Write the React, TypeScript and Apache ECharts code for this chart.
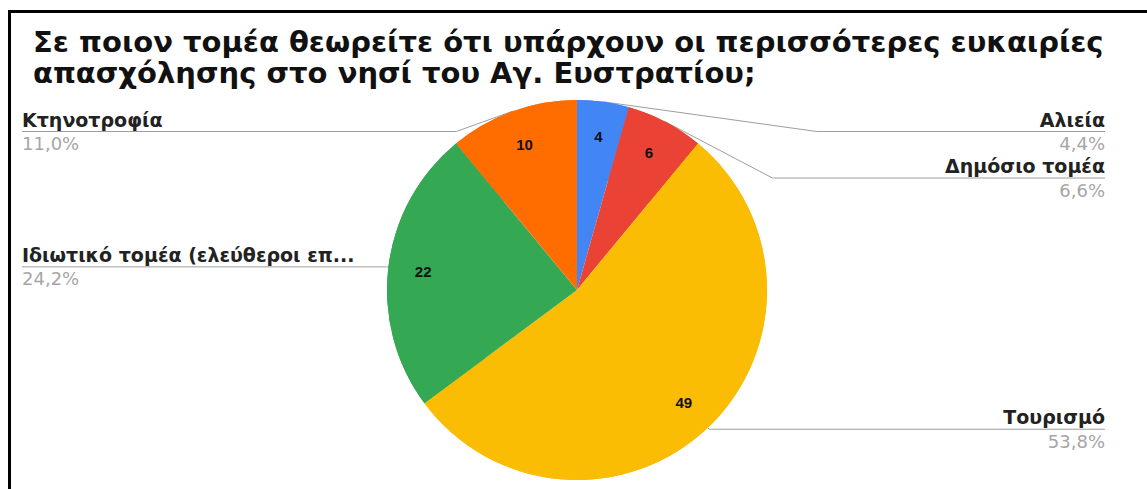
import React, { useEffect, useRef } from "react";
import * as echarts from "echarts";

const titleLines = [
  "Σε ποιον τομέα θεωρείτε ότι υπάρχουν οι περισσότερες ευκαιρίες",
  "απασχόλησης στο νησί του Αγ. Ευστρατίου;",
];
const categories = [
  "Αλιεία",
  "Δημόσιο τομέα",
  "Τουρισμό",
  "Ιδιωτικό τομέα (ελεύθεροι επ...",
  "Κτηνοτροφία",
];
const values = [4, 6, 49, 22, 10];
const colors = ["#4285F4", "#EA4335", "#FBBC04", "#34A853", "#FF6D01"];

const CX = 577;
const CY = 290;
const TOP = 108;
const R = 190;

export default function App() {
  const ref = useRef<HTMLDivElement>(null);
  useEffect(() => {
    if (!ref.current) return;
    const chart = echarts.init(ref.current, undefined, { renderer: "svg" });
    const data = categories.map((name, i) => ({
      name,
      value: values[i],
      itemStyle: { color: colors[i] },
    }));
    const box = { left: 0, top: TOP, right: 20, bottom: 0 };
    chart.setOption({
      animation: false,
      backgroundColor: "#fff",
      title: {
        text: titleLines.join("\n"),
        left: 28,
        top: 21,
        textStyle: {
          fontFamily: "DejaVu Sans",
          fontWeight: "bold",
          fontSize: 29,
          lineHeight: 31,
          color: "#111",
        },
      },
      graphic: [
        {
          type: "rect",
          silent: true,
          shape: { x: 9.5, y: 11.5, width: 1400, height: 700 },
          style: { fill: "none", stroke: "#000", lineWidth: 3 },
        },
      ],
      series: [
        {
          type: "pie",
          ...box,
          center: [CX, CY - TOP],
          radius: R,
          startAngle: 90,
          clockwise: true,
          percentPrecision: 1,
          avoidLabelOverlap: true,
          data,
          itemStyle: { borderWidth: 0 },
          emphasis: { disabled: true },
          label: {
            show: true,
            position: "outer",
            alignTo: "edge",
            edgeDistance: 22,
            minMargin: 4,
            formatter: (p: any) =>
              `{n|${p.name}}\n{p|${Number(p.percent).toFixed(1).replace(".", ",")}%}`,
            rich: {
              n: {
                fontFamily: "DejaVu Sans",
                fontWeight: "bold",
                fontSize: 19,
                lineHeight: 24,
                color: "#222",
              },
              p: {
                fontFamily: "DejaVu Sans",
                fontSize: 18,
                lineHeight: 24,
                color: "#a6a6a6",
              },
            },
          },
          labelLine: {
            show: true,
            length: 2,
            length2: 0,
            lineStyle: { color: "#9e9e9e", width: 1 },
          },
          labelLayout: (params: any) => {
            const pts = params.labelLinePoints;
            if (!pts) return {};
            const isLeft = params.labelRect.x < CX;
            pts[2][0] = isLeft
              ? params.labelRect.x
              : params.labelRect.x + params.labelRect.width;
            return { labelLinePoints: pts };
          },
        },
        {
          type: "pie",
          ...box,
          center: [CX, CY - TOP],
          radius: [R * 0.6, R],
          startAngle: 90,
          clockwise: true,
          silent: true,
          data,
          itemStyle: { color: "transparent", borderWidth: 0 },
          emphasis: { disabled: true },
          label: {
            show: true,
            position: "inside",
            formatter: "{c}",
            fontFamily: "Liberation Sans",
            fontWeight: "bold",
            fontSize: 15,
            color: "#111",
          },
          labelLine: { show: false },
        },
      ],
    });
    return () => chart.dispose();
  }, []);
  return (
    <div
      ref={ref}
      style={{ position: "fixed", left: 0, top: 0, width: 1147, height: 489 }}
    />
  );
}
